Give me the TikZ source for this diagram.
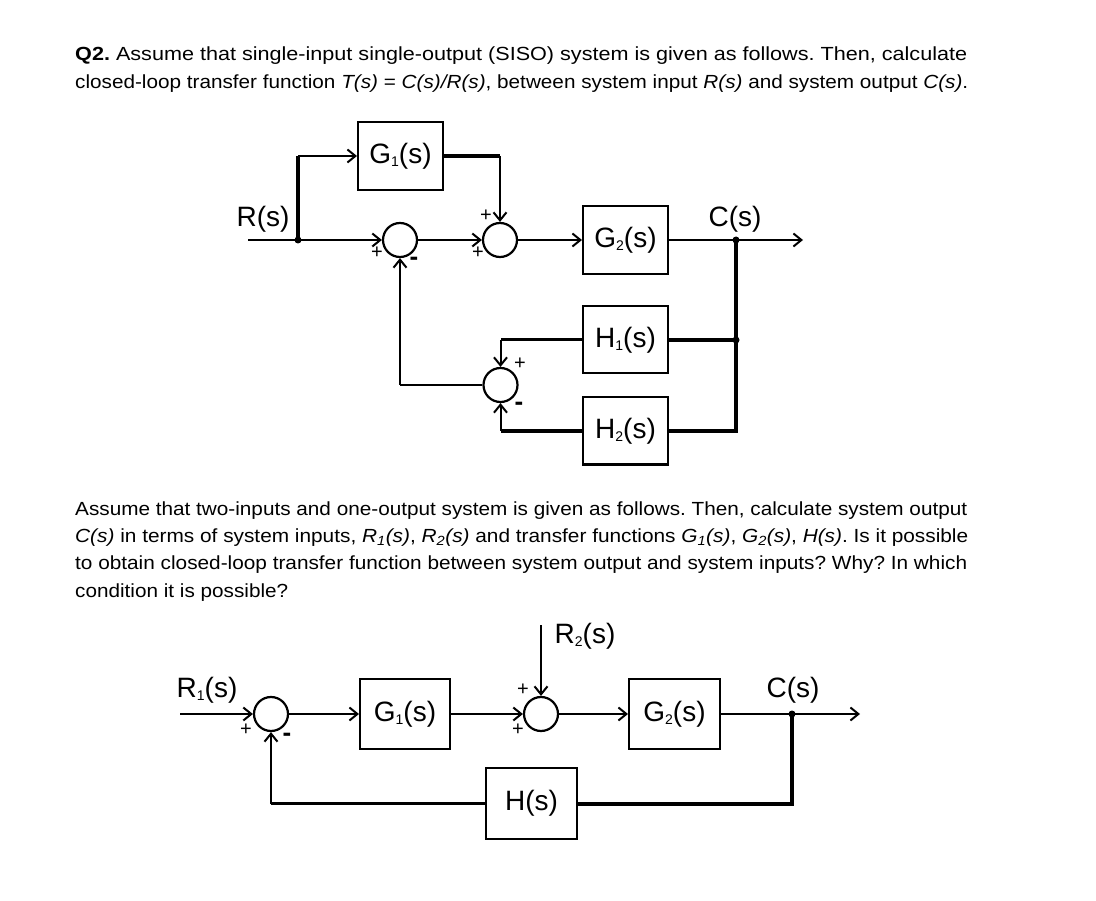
\documentclass[tikz,border=0pt]{standalone}
\usepackage{fontspec}
\usepackage{graphicx}
\setmainfont{Liberation Sans}
\usetikzlibrary{arrows.meta,calc}
\frenchspacing
\newcommand{\sbx}[1]{{\fontsize{14}{14}\selectfont\raisebox{-3pt}{#1}}}
\newcommand{\psub}[1]{\textsubscript{#1}}
\newcommand{\pline}[2]{\resizebox{#1}{\height}{\fontsize{19}{21}\selectfont\frenchspacing #2}}
\begin{document}
\begin{tikzpicture}[x=1pt,y=-1pt,
  >={Straight Barb[length=8pt,width=13pt]},
  tn/.style={line width=2pt},
  md/.style={line width=3pt},
  tk/.style={line width=4pt},
  blk/.style={draw,line width=2pt,inner sep=0pt,font=\fontsize{28}{30}\selectfont},
  sumc/.style={draw,circle,line width=2.2pt,minimum size=34pt,inner sep=0pt},
  lbl/.style={inner sep=0pt,font=\fontsize{28}{30}\selectfont},
  sgn/.style={inner sep=0pt,font=\fontsize{20}{20}\selectfont},
  mns/.style={inner sep=0pt,font=\fontsize{26}{26}\selectfont\bfseries},
  para/.style={anchor=base west,inner sep=0pt},
  dot/.style={circle,fill,inner sep=0pt,minimum size=7pt}
]
\fill[white] (0,0) rectangle (1096,901);
\useasboundingbox (0,0) rectangle (1096,901);

% ---------- text ----------
\node[para] (t1) at (75,61) {\pline{892pt}{\textbf{Q2.} Assume that single-input single-output (SISO) system is given as follows. Then, calculate}};
\node[para] (t2) at (75,89) {\pline{893pt}{closed-loop transfer function \textit{T(s)} = \textit{C(s)/R(s)}, between system input \textit{R(s)} and system output \textit{C(s)}.}};
\node[para] (t3) at (75,515) {\pline{892pt}{Assume that two-inputs and one-output system is given as follows. Then, calculate system output}};
\node[para] (t4) at (75,542) {\pline{893pt}{\textit{C(s)} in terms of system inputs, \textit{R\psub{1}(s)}, \textit{R\psub{2}(s)} and transfer functions \textit{G\psub{1}(s)}, \textit{G\psub{2}(s)}, \textit{H(s)}. Is it possible}};
\node[para] (t5) at (75,569) {\pline{892pt}{to obtain closed-loop transfer function between system output and system inputs? Why? In which}};
\node[para] (t6) at (75,597) {\pline{213pt}{condition it is possible?}};

% ---------- top diagram ----------
\node[blk,minimum width=85pt,minimum height=68pt] (G1) at (400.5,156) {G\sbx{1}(s)};
\node[blk,minimum width=85pt,minimum height=68pt] (G2) at (625.5,240) {G\sbx{2}(s)};
\node[blk,minimum width=85pt,minimum height=67pt] (H1) at (625.5,340) {H\sbx{1}(s)};
\node[blk,minimum width=85pt,minimum height=67pt] (H2) at (625.5,431) {H\sbx{2}(s)};
\node[sumc] (S1) at (400,240) {};
\node[sumc] (S2) at (500,240) {};
\node[sumc] (S3) at (500.5,385) {};

\coordinate (in) at (248,240);
\coordinate (j1) at (298,240);
\coordinate (out) at (803,240);
\coordinate (jc) at (736,240);

\node[lbl] (Rl) at (263,219) {R(s)};
\node[lbl] (Cl) at (735,219) {C(s)};

\draw[tn,->] (in) -- (S1);
\draw[tk] (j1) -- (j1 |- G1.west);
\draw[tn,->] (j1 |- G1.west) -- (G1.west);
\draw[tk] (G1.east) -- (S2 |- G1.east);
\draw[tn,->] (S2 |- G1.east) -- (S2.north);
\draw[tn,->] (S1) -- (S2);
\draw[tn,->] (S2) -- (G2);
\draw[tn,->] (G2.east) -- (out);
\draw[tk] (jc) -- (jc |- H2.east) -- (H2.east);
\draw[tk] (jc |- H1.east) -- (H1.east);
\draw[md] (H1.west) -- (S3 |- H1.west);
\draw[tn,->] (S3 |- H1.west) -- (S3.north);
\draw[tk] (H2.west) -- (S3 |- H2.west);
\draw[tn,->] (S3 |- H2.west) -- (S3.south);
\draw[tn] (S3.west) -- (S1 |- S3.west);
\draw[tn,->] (S1 |- S3.west) -- (S1.south);
\node[dot] (d1) at (j1) {};
\node[dot] (d2) at (jc) {};
\node[dot] (d3) at (jc |- H1.east) {};

\node[sgn] (p1) at (377,253) {+};
\node[mns] (m1) at (414,261) {-};
\node[sgn] (p2) at (486,216) {+};
\node[sgn] (p3) at (478,253) {+};
\node[sgn] (p4) at (520,364) {+};
\node[mns] (m2) at (519,406) {-};

% ---------- bottom diagram ----------
\node[blk,minimum width=90pt,minimum height=70pt] (B1) at (405,714) {G\sbx{1}(s)};
\node[blk,minimum width=91pt,minimum height=70pt] (B2) at (674.5,714) {G\sbx{2}(s)};
\node[blk,minimum width=91pt,minimum height=71pt] (BH) at (531.5,803.5) {H(s)};
\node[sumc] (SA) at (271,714) {};
\node[sumc] (SB) at (541,714) {};

\coordinate (inb) at (180,714);
\coordinate (r2) at (541,625);
\coordinate (outb) at (860,714);
\coordinate (jb) at (792,714);

\node[lbl] (R1l) at (207,690) {R\sbx{1}(s)};
\node[lbl] (R2l) at (585,636) {R\sbx{2}(s)};
\node[lbl] (C2l) at (793,690) {C(s)};

\draw[tn,->] (inb) -- (SA);
\draw[tn,->] (SA) -- (B1);
\draw[tn,->] (B1) -- (SB);
\draw[tn,->] (r2) -- (SB.north);
\draw[tn,->] (SB) -- (B2);
\draw[tn,->] (B2.east) -- (outb);
\draw[tk] (jb) -- (jb |- BH.east) -- (BH.east);
\draw[md] (BH.west) -- (SA |- BH.west);
\draw[tn,->] (SA |- BH.west) -- (SA.south);
\node[dot] (d4) at (jb) {};

\node[sgn] (p5) at (246,730) {+};
\node[mns] (m3) at (287,737) {-};
\node[sgn] (p6) at (523,690) {+};
\node[sgn] (p7) at (518,730) {+};
\end{tikzpicture}
\end{document}
